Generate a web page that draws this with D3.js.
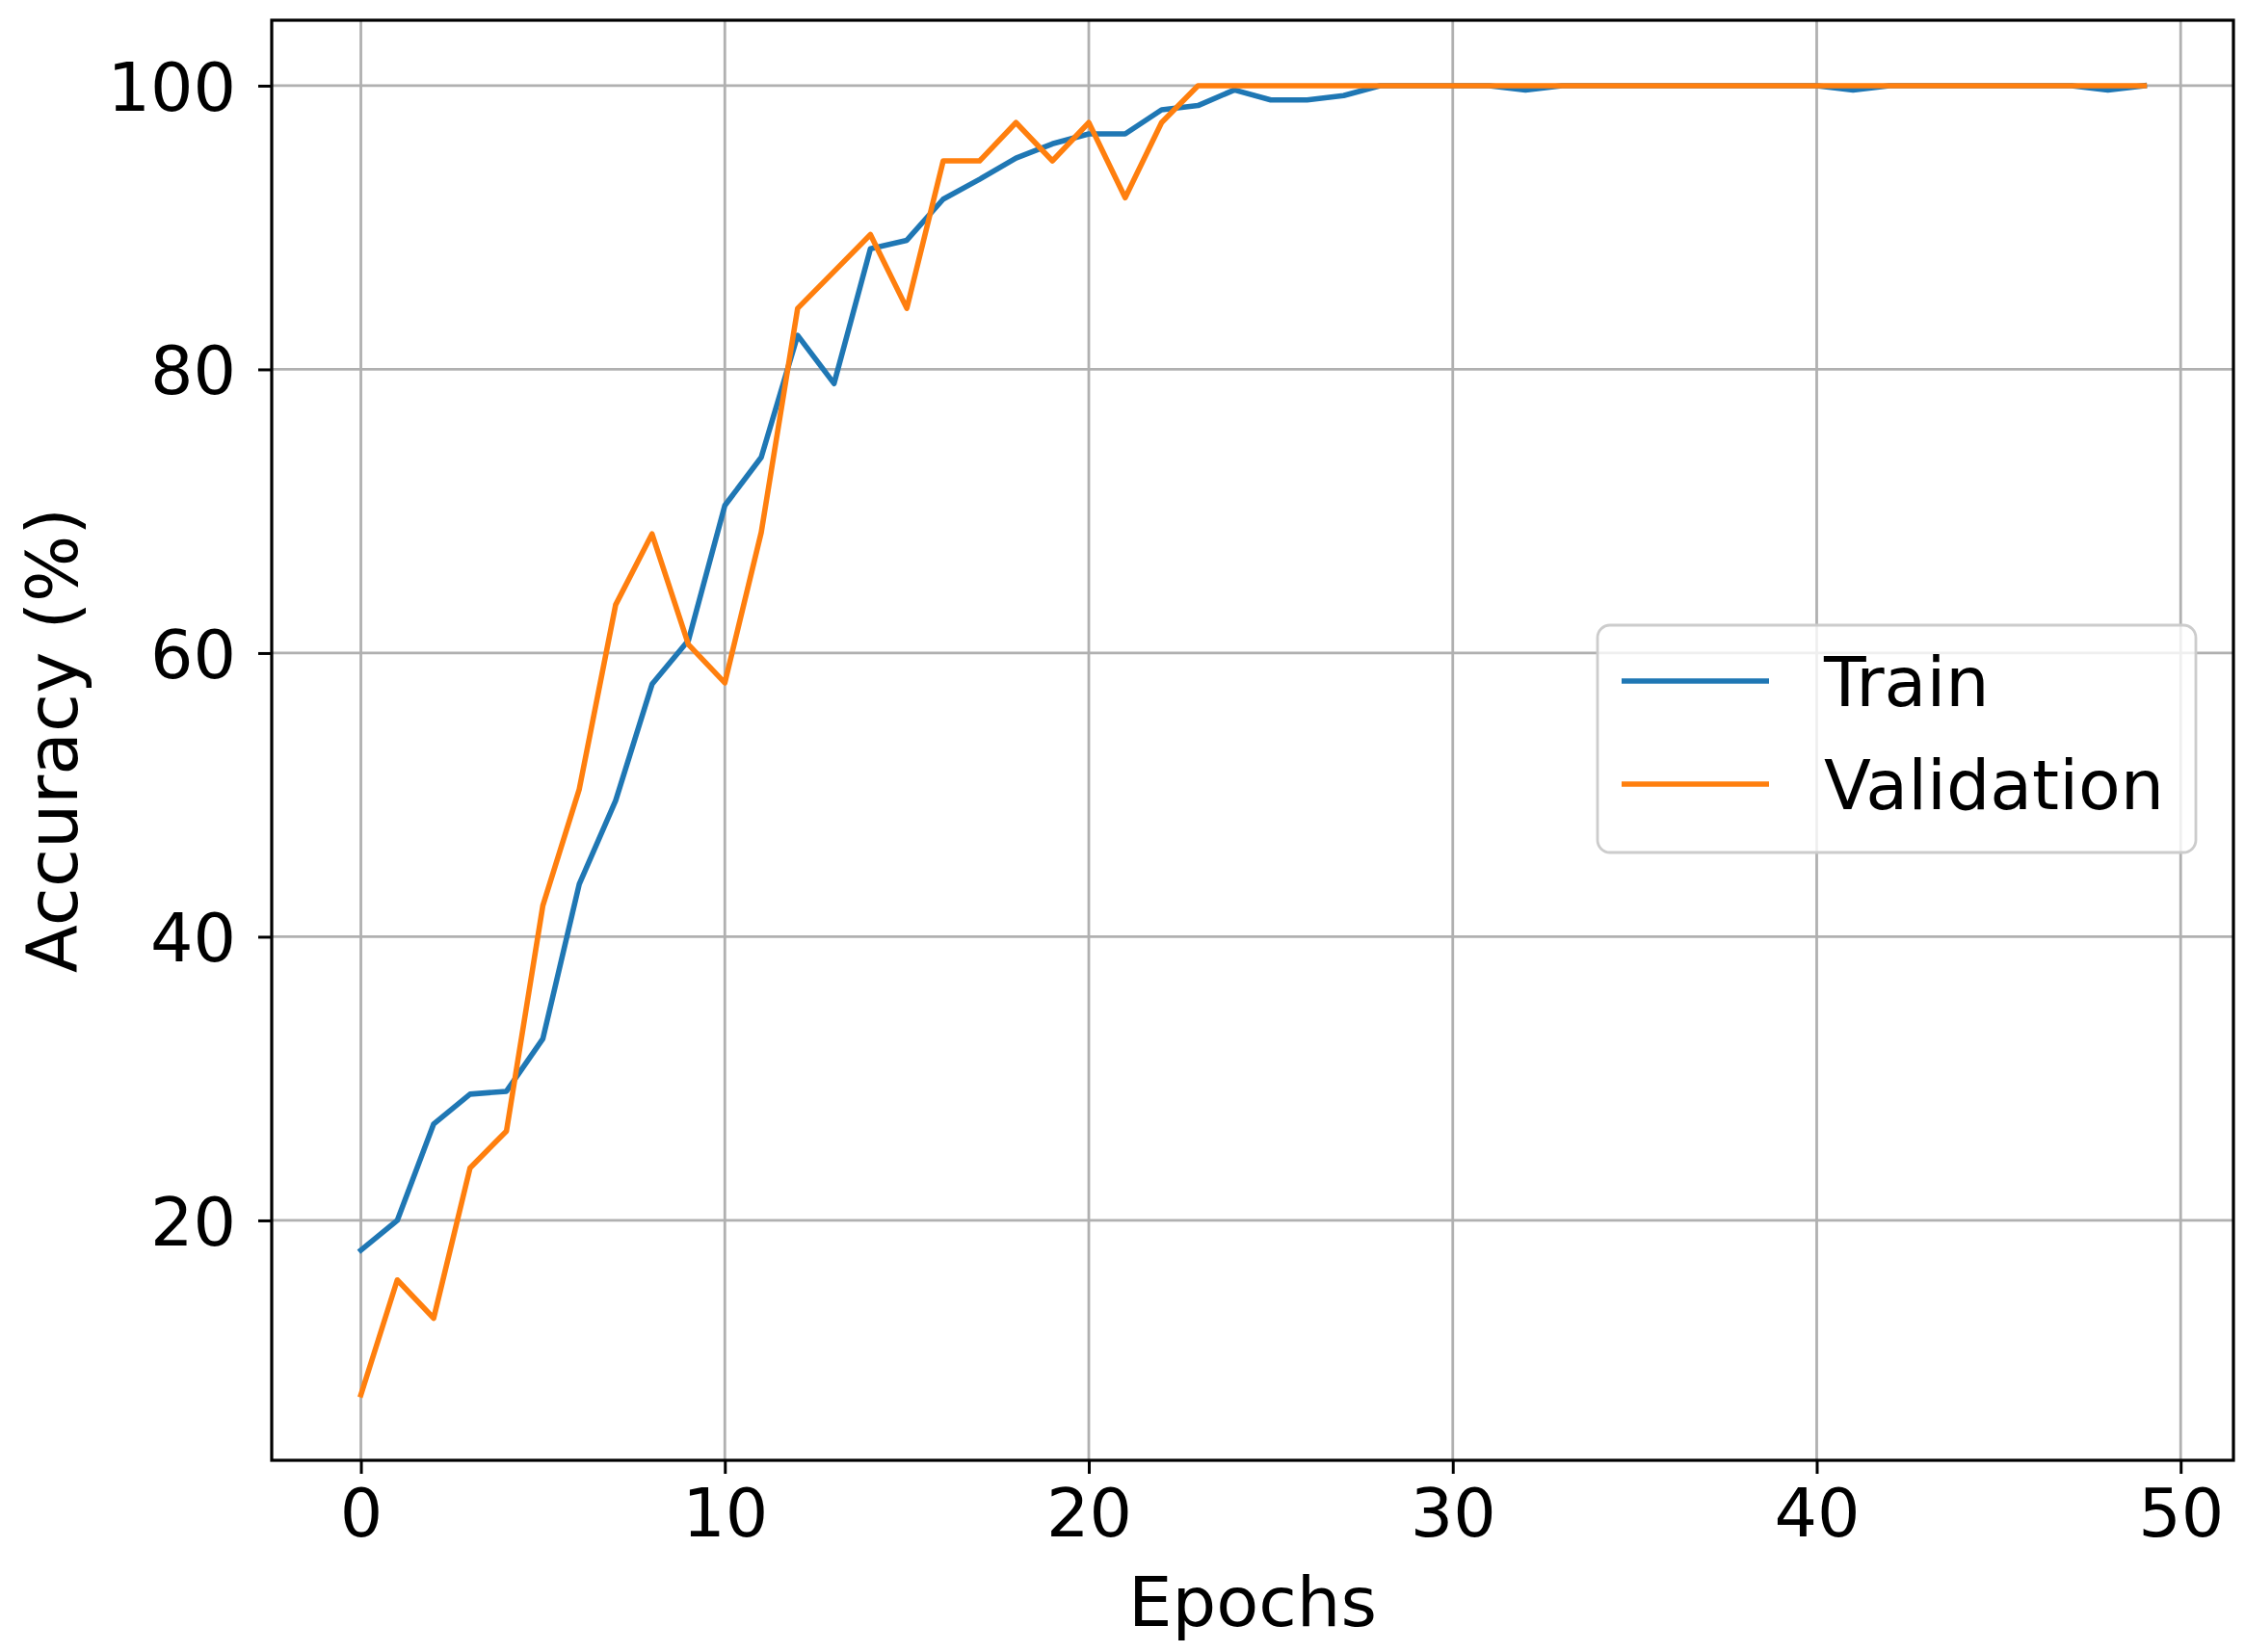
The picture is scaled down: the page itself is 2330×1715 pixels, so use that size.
<!DOCTYPE html>
<html>
<head>
<meta charset="utf-8">
<script src="https://cdn.jsdelivr.net/npm/d3@7"></script>
<style>
    html, body { margin: 0; padding: 0; background: #fff; }
    svg text { font-family: "DejaVu Sans", sans-serif; fill: #000; }
    .tick text { font-size: 70px; }
    .axis-label { font-size: 72px; }
    .y-label { font-size: 73px; }
    .legend-label { font-size: 71.5px; }
</style>
</head>
<body>
<div id="chart-accuracy"></div>
<script>
var EPOCHS = d3.range(0, 50);

var TRAIN = [
    17.9, 20.0, 26.8, 28.9, 29.1, 32.8, 43.7, 49.6, 57.8, 60.9,
    70.4, 73.8, 82.4, 79.0, 88.5, 89.1, 92.0, 93.4, 94.9, 95.9,
    96.6, 96.6, 98.3, 98.6, 99.7, 99.0, 99.0, 99.3, 100, 100,
    100, 100, 99.7, 100, 100, 100, 100, 100, 100, 100,
    100, 99.7, 100, 100, 100, 100, 100, 100, 99.7, 100
];

var VALIDATION = [
    7.7, 15.8, 13.1, 23.7, 26.3, 42.2, 50.4, 63.4, 68.4, 60.6,
    57.9, 68.5, 84.3, 86.9, 89.5, 84.3, 94.7, 94.7, 97.4, 94.7,
    97.4, 92.1, 97.4, 100, 100, 100, 100, 100, 100, 100,
    100, 100, 100, 100, 100, 100, 100, 100, 100, 100,
    100, 100, 100, 100, 100, 100, 100, 100, 100, 100
];

var X_TICKS = [0, 10, 20, 30, 40, 50];
var Y_TICKS = [20, 40, 60, 80, 100];

var SERIES_NAMES = ["Train", "Validation"];
var SERIES_COLORS = ["#1f77b4", "#ff7f0e"];

(function () {

    var W = 2330, H = 1715;
    /* axes box in page px */
    var LEFT = 282, RIGHT = 2318, TOP = 21, BOTTOM = 1516;
    var TICK = 14;

    var svg = d3.select("#chart-accuracy")
        .append("svg")
        .attr("width", W)
        .attr("height", H);

    /* matplotlib-style 5% margins */
    var xPad = (d3.max(EPOCHS) - d3.min(EPOCHS)) * 0.05;
    var allY = TRAIN.concat(VALIDATION);
    var yMin = d3.min(allY), yMax = d3.max(allY);
    var yPad = (yMax - yMin) * 0.05;

    var x = d3.scaleLinear()
        .domain([d3.min(EPOCHS) - xPad, d3.max(EPOCHS) + xPad])
        .range([LEFT, RIGHT]);

    var y = d3.scaleLinear()
        .domain([yMin - yPad, yMax + yPad])
        .range([BOTTOM, TOP]);

    /* grid */
    var grid = svg.append("g").attr("class", "grid");
    grid.selectAll(".gx")
        .data(X_TICKS)
        .enter().append("line")
        .attr("x1", function (d) { return x(d); })
        .attr("x2", function (d) { return x(d); })
        .attr("y1", TOP).attr("y2", BOTTOM)
        .attr("stroke", "#b0b0b0")
        .attr("stroke-width", 2.8);
    grid.selectAll(".gy")
        .data(Y_TICKS)
        .enter().append("line")
        .attr("x1", LEFT).attr("x2", RIGHT)
        .attr("y1", function (d) { return y(d); })
        .attr("y2", function (d) { return y(d); })
        .attr("stroke", "#b0b0b0")
        .attr("stroke-width", 2.8);

    /* lines */
    var line = d3.line()
        .x(function (d, i) { return x(EPOCHS[i]); })
        .y(function (d) { return y(d); });

    [TRAIN, VALIDATION].forEach(function (vals, k) {
        svg.append("path")
            .datum(vals)
            .attr("fill", "none")
            .attr("stroke", SERIES_COLORS[k])
            .attr("stroke-width", 5.6)
            .attr("stroke-linejoin", "round")
            .attr("stroke-linecap", "square")
            .attr("d", line);
    });

    /* spines */
    svg.append("rect")
        .attr("x", LEFT).attr("y", TOP)
        .attr("width", RIGHT - LEFT)
        .attr("height", BOTTOM - TOP)
        .attr("fill", "none")
        .attr("stroke", "#000")
        .attr("stroke-width", 3.2);

    /* axes */
    var xAxis = svg.append("g")
        .attr("transform", "translate(0," + BOTTOM + ")")
        .call(d3.axisBottom(x).tickValues(X_TICKS).tickSize(TICK).tickPadding(14).tickFormat(d3.format("d")));
    var yAxis = svg.append("g")
        .attr("transform", "translate(" + LEFT + ",0)")
        .call(d3.axisLeft(y).tickValues(Y_TICKS).tickSize(TICK).tickPadding(23).tickFormat(d3.format("d")));

    [xAxis, yAxis].forEach(function (a) {
        a.select(".domain").remove();
        a.selectAll(".tick line").attr("stroke", "#000").attr("stroke-width", 3);
        a.selectAll(".tick text").attr("font-family", null).attr("font-size", null);
    });
    xAxis.selectAll(".tick text").attr("dy", "0.73em");
    yAxis.selectAll(".tick text").attr("dy", "0.36em");

    /* axis labels */
    svg.append("text")
        .attr("class", "axis-label")
        .attr("x", (LEFT + RIGHT) / 2)
        .attr("y", 1688)
        .attr("text-anchor", "middle")
        .text("Epochs");

    svg.append("text")
        .attr("class", "y-label")
        .attr("transform", "translate(80," + ((TOP + BOTTOM) / 2) + ") rotate(-90)")
        .attr("text-anchor", "middle")
        .text("Accuracy (%)");

    /* legend */
    var lg = svg.append("g").attr("class", "legend");
    lg.append("rect")
        .attr("x", 1658).attr("y", 649)
        .attr("width", 621).attr("height", 236)
        .attr("rx", 13)
        .attr("fill", "#fff")
        .attr("fill-opacity", 0.8)
        .attr("stroke", "#cccccc")
        .attr("stroke-width", 2.8);

    var rows = [707, 814];
    SERIES_NAMES.forEach(function (name, i) {
        lg.append("line")
            .attr("x1", 1683).attr("x2", 1836)
            .attr("y1", rows[i]).attr("y2", rows[i])
            .attr("stroke", SERIES_COLORS[i])
            .attr("stroke-width", 5.6);
        lg.append("text")
            .attr("class", "legend-label")
            .attr("x", 1893)
            .attr("y", rows[i])
            .attr("dy", "0.36em")
            .text(name);
    });

}());
</script>
</body>
</html>
